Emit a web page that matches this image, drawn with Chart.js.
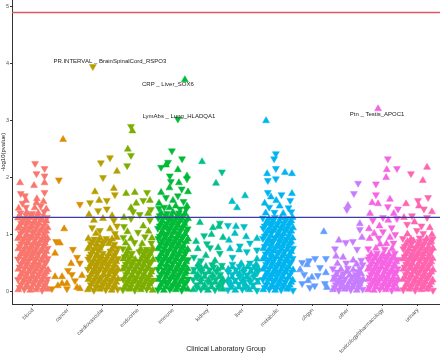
<!DOCTYPE html>
<html>
<head>
<meta charset="utf-8">
<script src="https://cdn.jsdelivr.net/npm/chart.js@4.4.1/dist/chart.umd.min.js"></script>
<style>
  html, body { margin: 0; padding: 0; background: #fff; }
  #wrap { width: 440px; height: 354px; }
</style>
</head>
<body>
<div id="wrap"><canvas id="c" width="440" height="354"></canvas></div>
<script>
const categories = ['blood', 'cancer', 'cardiovascular', 'endocrine', 'immune', 'kidney', 'liver',
  'metabolic', 'obgyn', 'other', 'toxicology/pharmacology', 'urinary'];
const colors = ['#F8766D', '#DE8C00', '#B79F00', '#7CAE00', '#00BA38', '#00C08B', '#00BFC4',
  '#00B4F0', '#619CFF', '#C77CFF', '#F564E3', '#FF64B0'];
const yTicks = [0, 1, 2, 3, 4, 5];
const sigLine = 4.9;
const suggestLine = 1.3;

// points per group: [jitter, -log10(p), 1 = up / 0 = down]
const blood = [
  [-.42,.03,1],[-.25,.04,0],[-.08,.02,1],[.09,.03,1],[.26,.02,0],[.42,.04,1],
  [-.34,.12,0],[-.17,.11,1],[0,.13,0],[.17,.12,1],[.34,.11,0],
  [-.43,.21,0],[-.26,.2,1],[-.09,.22,0],[.08,.21,1],[.25,.2,1],[.41,.22,0],
  [-.35,.3,1],[-.18,.31,0],[-.01,.29,1],[.16,.3,0],[.33,.31,1],
  [-.42,.39,1],[-.25,.4,0],[-.08,.38,0],[.09,.39,1],[.26,.4,0],[.43,.38,1],
  [-.34,.48,0],[-.17,.49,1],[.01,.47,0],[.17,.48,1],[.35,.49,0],
  [-.43,.57,0],[-.26,.56,1],[-.09,.58,1],[.08,.57,0],[.25,.56,1],[.42,.58,0],
  [-.35,.66,1],[-.18,.65,0],[-.01,.67,1],[.16,.66,0],[.33,.65,1],
  [-.42,.75,1],[-.25,.74,0],[-.08,.76,1],[.09,.75,0],[.26,.74,1],[.42,.76,0],
  [-.34,.84,0],[-.17,.85,1],[0,.83,0],[.17,.84,1],[.34,.85,1],
  [-.43,.93,1],[-.26,.92,0],[-.09,.94,1],[.08,.93,0],[.25,.92,0],[.41,.94,1],
  [-.35,1.02,0],[-.18,1.01,1],[-.01,1.03,0],[.16,1.02,1],[.33,1.01,0],
  [-.42,1.11,1],[-.25,1.1,0],[-.08,1.12,1],[.09,1.11,0],[.26,1.1,1],[.42,1.12,1],
  [-.34,1.2,0],[-.17,1.21,1],[0,1.19,0],[.17,1.2,1],[.34,1.21,0],
  [-.43,1.29,1],[-.26,1.28,0],[-.09,1.3,1],[.08,1.29,0],[.25,1.28,1],[.4,1.3,0],
  [-.36,1.38,0],[-.18,1.39,1],[-.02,1.37,0],[.15,1.38,1],[.32,1.4,0],
  [-.38,.07,0],[-.2,.08,1],[-.04,.07,1],[.13,.08,0],[.3,.07,1],
  [-.3,.16,1],[-.13,.17,0],[.04,.16,0],[.21,.17,1],[.38,.16,0],
  [-.38,.25,1],[-.2,.26,0],[-.04,.25,1],[.13,.26,1],[.3,.25,0],
  [-.3,.34,0],[-.13,.35,1],[.04,.34,1],[.21,.35,0],[.38,.34,1],
  [-.38,.43,0],[-.2,.44,1],[-.04,.43,0],[.13,.44,1],[.3,.43,1],
  [-.3,.52,1],[-.13,.53,0],[.04,.52,1],[.21,.53,0],[.38,.52,0],
  [-.38,.61,1],[-.2,.62,0],[-.04,.61,0],[.13,.62,1],[.3,.61,1],
  [-.3,.7,0],[-.13,.71,1],[.04,.7,0],[.21,.71,1],[.38,.7,1],
  [-.38,.79,0],[-.2,.8,1],[-.04,.79,1],[.13,.8,0],[.3,.79,0],
  [-.3,.88,1],[-.13,.89,0],[.04,.88,1],[.21,.89,1],[.38,.88,0],
  [-.38,.97,1],[-.2,.98,1],[-.04,.97,0],[.13,.98,0],[.3,.97,1],
  [-.3,1.06,0],[-.13,1.07,1],[.04,1.06,0],[.21,1.07,1],[.38,1.06,1],
  [-.38,1.15,1],[-.2,1.16,0],[-.04,1.15,1],[.13,1.16,0],[.3,1.15,0],
  [-.3,1.24,0],[-.13,1.25,1],[.04,1.24,1],[.21,1.25,0],[.38,1.24,1],
  [-.38,1.33,1],[-.2,1.34,0],[-.04,1.33,0],[.13,1.34,1],[.3,1.33,1],
  [-.41,1.46,1],[-.2,1.48,0],[.05,1.47,1],[.22,1.5,0],[.38,1.45,1],[-.3,1.55,0],[.1,1.56,1],[.3,1.58,1],
  [-.37,1.91,1],[.06,2.25,0],[.1,2.07,0],[.33,2.16,0],[.33,2.03,0],[.33,1.91,1],[.33,1.74,0],
  [.03,1.86,1],[-.23,1.68,0],[-.2,1.6,1],[.11,1.63,1],[-.35,1.72,0]
];
const cancer = [
  [-.14,2.67,1],[-.26,1.96,0],[.34,1.53,0],[-.11,1.1,1],[-.34,.88,0],[-.23,.85,1],[-.37,.67,1],
  [.14,.74,0],[.09,.49,1],[.26,.6,0],[.34,.5,0],[-.37,.26,1],[-.17,.26,1],[.11,.3,0],[.4,.28,1],
  [-.29,.1,1],[-.03,.05,0],[.26,.07,1],[.2,.19,0],[.34,.05,1],[-.46,.05,0],[-.17,.14,1],[0,.37,0],[-.03,.14,1]
];
const cardiovascular = [
  [-.43,.03,1],[-.26,.02,0],[-.09,.04,1],[.08,.03,0],[.25,.02,1],[.42,.04,0],
  [-.35,.12,0],[-.18,.11,1],[-.01,.13,1],[.16,.12,0],[.33,.11,1],
  [-.42,.21,1],[-.25,.2,0],[-.08,.22,0],[.09,.21,1],[.26,.2,0],[.43,.22,1],
  [-.34,.3,1],[-.17,.31,0],[0,.29,1],[.17,.3,1],[.34,.31,0],
  [-.43,.39,0],[-.26,.38,1],[-.09,.4,0],[.08,.39,1],[.25,.38,0],[.42,.4,1],
  [-.35,.48,1],[-.18,.47,0],[-.01,.49,1],[.16,.48,0],[.33,.47,1],
  [-.42,.57,0],[-.25,.56,1],[-.08,.58,1],[.09,.57,0],[.26,.56,1],[.43,.58,0],
  [-.34,.66,0],[-.17,.65,1],[0,.67,0],[.17,.66,1],[.34,.65,0],
  [-.43,.75,1],[-.26,.74,0],[-.09,.76,1],[.25,.74,1],[.42,.76,0],
  [-.35,.84,0],[-.18,.83,1],[-.01,.85,0],[.16,.84,1],[.33,.83,0],
  [-.42,.93,1],[-.25,.92,0],[-.08,.94,1],[.09,.93,0],[.26,.92,1],[.4,.95,1],
  [-.38,.07,1],[-.2,.08,0],[-.04,.07,0],[.13,.08,1],[.3,.07,0],
  [-.3,.16,0],[-.13,.17,1],[.04,.16,1],[.21,.17,0],[.38,.16,1],
  [-.38,.25,0],[-.2,.26,1],[-.04,.25,0],[.13,.26,0],[.3,.25,1],
  [-.3,.34,1],[-.13,.35,0],[.04,.34,0],[.21,.35,1],[.38,.34,0],
  [-.38,.43,1],[-.2,.44,0],[-.04,.43,1],[.13,.44,0],[.3,.43,0],
  [-.3,.52,0],[-.13,.53,1],[.04,.52,0],[.21,.53,1],[.38,.52,1],
  [-.38,.61,0],[-.2,.62,1],[-.04,.61,1],[.13,.62,0],[.3,.61,0],
  [-.3,.7,1],[-.13,.71,0],[.21,.71,0],[.38,.7,0],
  [-.38,.79,1],[-.2,.8,0],[-.04,.79,0],[.3,.79,1],
  [-.3,.88,0],[-.13,.89,1],[.04,.88,0],[.21,.89,0],
  [-.06,2.26,0],[.2,2.35,0],[.4,2.11,1],[0,2.0,0],[.31,1.81,1],[.34,1.7,0],[-.23,1.75,1],
  [-.37,1.56,0],[-.11,1.6,1],[.11,1.6,0],[-.14,1.42,0],[.11,1.45,0],[.26,1.33,1],[.31,1.25,0],
  [-.26,1.25,1],[-.31,1.12,0],[-.09,1.07,0],[.2,1.1,1],[.4,1.15,0],[-.4,1.35,1],[0,1.28,1],
  [-.2,1.02,1],[.34,1.02,0]
];
const endocrine = [
  [-.43,.03,0],[-.26,.04,1],[-.09,.02,0],[.08,.03,1],[.25,.04,0],[.42,.02,1],
  [-.35,.12,1],[-.18,.13,0],[-.01,.11,1],[.16,.12,0],[.33,.13,1],
  [-.42,.21,0],[-.25,.22,1],[-.08,.2,1],[.09,.21,0],[.26,.22,1],[.43,.2,0],
  [-.34,.3,0],[-.17,.29,1],[0,.31,0],[.17,.3,1],[.34,.29,1],
  [-.43,.39,1],[-.26,.4,0],[-.09,.38,1],[.08,.39,0],[.25,.4,1],[.42,.38,0],
  [-.35,.48,0],[-.18,.49,1],[-.01,.47,0],[.16,.48,1],[.33,.49,0],
  [-.42,.57,1],[-.25,.58,0],[-.08,.56,1],[.09,.57,1],[.26,.58,0],[.43,.56,1],
  [-.34,.66,1],[-.17,.67,0],[.17,.66,0],[.34,.67,1],
  [-.43,.75,0],[-.26,.76,1],[.08,.75,1],[.25,.74,0],[.42,.76,1],
  [-.35,.85,1],[-.1,.86,0],[.12,.84,1],[.38,.85,0],
  [-.42,.95,0],[-.2,.93,1],[.2,.96,0],[.4,.94,1],
  [-.3,1.05,1],[0,1.04,0],[.3,1.06,1],[-.4,1.14,0],[.15,1.15,1],
  [-.38,.07,1],[-.2,.08,0],[-.04,.07,1],[.13,.08,0],[.3,.07,1],
  [-.3,.16,0],[-.13,.17,1],[.04,.16,0],[.21,.17,1],[.38,.16,0],
  [-.38,.25,1],[-.2,.26,1],[-.04,.25,0],[.13,.26,1],[.3,.25,0],
  [-.3,.34,1],[-.13,.35,0],[.04,.34,1],[.21,.35,0],[.38,.34,1],
  [-.38,.43,0],[-.2,.44,1],[-.04,.43,1],[.13,.44,0],[.3,.43,1],
  [-.3,.52,1],[-.13,.53,0],[.04,.52,0],[.21,.53,1],[.38,.52,0],
  [-.38,.61,0],[-.2,.62,1],[.13,.62,1],[.3,.61,0],
  [-.3,.7,1],[.04,.7,0],[.21,.71,1],[.38,.7,0],
  [-.2,2.9,0],[-.16,2.82,1],[-.29,2.5,1],[-.2,2.39,0],[-.31,2.21,0],[-.34,1.72,1],[-.09,1.74,1],
  [.26,1.74,0],[.34,1.6,1],[-.2,1.47,1],[-.14,1.4,0],[.37,1.44,0],[.29,1.37,1],[-.2,1.28,0],
  [.34,1.25,0],[-.4,1.3,1],[.05,1.35,0],[.15,1.6,0],[-.05,1.55,1]
];
const immune = [
  [-.43,.03,0],[-.26,.02,1],[-.09,.04,0],[.08,.03,1],[.25,.02,0],[.42,.04,1],
  [-.35,.12,1],[-.18,.13,0],[-.01,.11,0],[.16,.12,1],[.33,.13,0],
  [-.42,.21,1],[-.25,.2,1],[-.08,.22,0],[.09,.21,0],[.26,.2,1],[.43,.22,0],
  [-.34,.3,0],[-.17,.31,1],[0,.29,1],[.17,.3,0],[.34,.31,1],
  [-.43,.39,0],[-.26,.38,0],[-.09,.4,1],[.08,.39,1],[.25,.38,0],[.42,.4,1],
  [-.35,.48,1],[-.18,.47,1],[-.01,.49,0],[.16,.48,0],[.33,.47,1],
  [-.42,.57,0],[-.25,.58,1],[-.08,.56,0],[.09,.57,1],[.26,.58,1],[.43,.56,0],
  [-.34,.66,1],[-.17,.67,0],[0,.65,1],[.17,.66,0],[.34,.67,0],
  [-.43,.75,1],[-.26,.76,0],[-.09,.74,1],[.08,.75,0],[.25,.76,1],[.42,.74,1],
  [-.35,.84,0],[-.18,.85,1],[-.01,.83,0],[.16,.84,1],[.33,.85,0],
  [-.42,.93,0],[-.25,.94,1],[-.08,.92,1],[.09,.93,0],[.26,.94,0],[.43,.92,1],
  [-.34,1.02,1],[-.17,1.01,0],[0,1.03,1],[.17,1.02,0],[.34,1.01,1],
  [-.43,1.11,0],[-.26,1.12,1],[-.09,1.1,0],[.08,1.11,1],[.25,1.12,0],[.42,1.1,0],
  [-.35,1.2,1],[-.18,1.19,0],[-.01,1.21,1],[.16,1.2,0],[.33,1.19,1],
  [-.42,1.29,0],[-.25,1.3,1],[-.08,1.28,0],[.09,1.29,1],[.26,1.3,0],[.43,1.28,1],
  [-.34,1.38,1],[-.17,1.37,0],[0,1.39,1],[.17,1.38,0],[.34,1.37,1],
  [-.38,.07,1],[-.2,.08,1],[-.04,.07,0],[.13,.08,0],[.3,.07,1],
  [-.3,.16,0],[-.13,.17,0],[.04,.16,1],[.21,.17,1],[.38,.16,0],
  [-.38,.25,0],[-.2,.26,1],[-.04,.25,1],[.13,.26,0],[.3,.25,1],
  [-.3,.34,1],[-.13,.35,1],[.04,.34,0],[.21,.35,0],[.38,.34,1],
  [-.38,.43,1],[-.2,.44,0],[-.04,.43,0],[.13,.44,1],[.3,.43,0],
  [-.3,.52,0],[-.13,.53,1],[.04,.52,1],[.21,.53,0],[.38,.52,1],
  [-.38,.61,1],[-.2,.62,0],[-.04,.61,1],[.13,.62,0],[.3,.61,0],
  [-.3,.7,0],[-.13,.71,0],[.04,.7,1],[.21,.71,1],[.38,.7,0],
  [-.38,.79,1],[-.2,.8,0],[-.04,.79,0],[.13,.8,1],[.3,.79,1],
  [-.3,.88,0],[-.13,.89,1],[.04,.88,1],[.21,.89,0],[.38,.88,1],
  [-.38,.97,0],[-.2,.98,0],[-.04,.97,1],[.13,.98,1],[.3,.97,0],
  [-.3,1.06,1],[-.13,1.07,0],[.04,1.06,1],[.21,1.07,0],[.38,1.06,0],
  [-.38,1.15,0],[-.2,1.16,1],[-.04,1.15,0],[.13,1.16,1],[.3,1.15,1],
  [-.3,1.24,1],[-.13,1.25,0],[.04,1.24,0],[.21,1.25,1],[.38,1.24,0],
  [-.38,1.33,0],[-.2,1.34,1],[-.04,1.33,1],[.13,1.34,0],[.3,1.33,0],
  [-.4,1.46,0],[-.1,1.47,1],[.2,1.45,0],[.4,1.5,1],
  [-.03,2.47,0],[.26,2.33,0],[.14,2.14,1],[-.34,2.18,0],[-.14,2.27,0],[-.2,2.22,1],[.4,2.03,1],
  [.4,1.98,0],[-.09,2.03,0],[-.06,1.93,0],[.17,1.91,1],[-.34,1.74,1],[.43,1.75,1],[-.2,1.65,0],
  [.14,1.68,0],[-.4,1.55,1],[0,1.6,1],[.3,1.58,0],[-.25,1.48,0],[.08,1.5,1],[.38,1.45,0],
  [-.1,1.82,1],[.25,1.8,0]
];
const kidney = [
  [-.42,.03,1],[-.2,.04,0],[0,.02,1],[.2,.03,0],[.42,.04,1],
  [-.32,.12,0],[-.1,.11,1],[.1,.13,0],[.32,.12,1],
  [-.42,.21,0],[-.2,.22,1],[.02,.2,1],[.22,.21,0],[.42,.22,1],
  [-.3,.3,1],[-.08,.31,0],[.14,.29,1],[.35,.3,0],
  [-.4,.39,0],[-.18,.4,1],[.05,.38,0],[.28,.39,1],
  [-.28,.48,1],[.12,.47,0],[.4,.46,0],
  [-.31,.07,0],[-.1,.06,1],[.1,.08,1],[.31,.07,0],
  [-.21,.16,1],[0,.17,0],[.21,.16,1],[.42,.15,0],
  [-.31,.25,0],[-.1,.26,1],[.12,.25,0],[.32,.26,1],
  [-.41,.34,1],[-.19,.35,0],[.03,.34,1],[.24,.35,0],
  [-.27,.43,0],[-.06,.44,1],[.16,.43,0],[.4,.42,1],
  [-.17,2.28,1],[.4,2.1,0],[.23,1.9,1],[-.23,1.21,1],[.14,1.12,1],[.31,1.14,1],[-.11,.98,0],
  [-.03,.84,0],[-.29,.75,1],[.06,.77,0],[.29,.77,1],[.34,.67,0],[-.06,.63,1],[-.2,.54,0],
  [.2,.54,1],[-.34,.88,1],[.43,.95,1],[-.4,.6,0],[.1,1.0,1],[.34,1.2,0]
];
const liver = [
  [-.43,.03,0],[-.22,.02,1],[-.02,.04,0],[.18,.03,1],[.4,.02,0],
  [-.33,.12,1],[-.12,.13,0],[.08,.11,1],[.29,.12,0],
  [-.42,.21,1],[-.22,.2,0],[0,.22,1],[.2,.21,1],[.42,.2,0],
  [-.3,.3,0],[-.1,.31,1],[.12,.29,0],[.33,.3,1],
  [-.42,.39,1],[-.2,.38,0],[.02,.4,1],[.24,.39,0],[.43,.41,1],
  [-.3,.48,0],[-.05,.49,1],[.2,.5,0],[.38,.48,1],
  [-.33,.07,1],[-.12,.08,1],[.08,.07,0],[.29,.08,1],
  [-.42,.16,0],[-.22,.17,1],[0,.16,0],[.2,.17,0],[.42,.16,1],
  [-.31,.25,1],[-.1,.26,0],[.1,.25,1],[.31,.26,0],
  [-.42,.34,0],[-.2,.35,1],[.02,.34,0],[.22,.35,1],[.42,.34,0],
  [-.3,.43,1],[-.1,.44,0],[.13,.43,1],[.33,.44,0],
  [.06,1.68,1],[-.31,1.58,1],[-.17,1.47,1],[-.43,1.16,0],[-.2,1.14,1],[.03,1.14,0],[-.23,1.02,1],
  [.09,.96,1],[.4,.93,1],[-.37,.75,1],[-.09,.8,0],[-.11,.73,1],[.11,.7,0],[.4,.73,0],[.4,.57,1],
  [-.3,.6,0],[.2,.85,0],[-.4,.9,1]
];
const metabolic = [
  [-.42,.03,1],[-.25,.04,0],[-.08,.02,1],[.09,.03,0],[.26,.04,1],[.43,.02,0],
  [-.34,.12,0],[-.17,.11,1],[0,.13,1],[.17,.12,0],[.34,.11,1],
  [-.43,.21,0],[-.26,.22,1],[-.09,.2,0],[.08,.21,1],[.25,.22,0],[.42,.2,1],
  [-.35,.3,1],[-.18,.29,0],[-.01,.31,1],[.16,.3,0],[.33,.29,0],
  [-.42,.39,1],[-.25,.4,0],[-.08,.38,1],[.09,.39,1],[.26,.4,0],[.43,.38,1],
  [-.34,.48,0],[-.17,.49,1],[0,.47,0],[.17,.48,1],[.34,.49,0],
  [-.43,.57,1],[-.26,.56,0],[-.09,.58,0],[.08,.57,1],[.25,.56,1],[.42,.58,0],
  [-.35,.66,0],[-.18,.65,1],[-.01,.67,0],[.16,.66,1],[.33,.65,1],
  [-.42,.75,1],[-.25,.74,1],[-.08,.76,0],[.09,.75,0],[.26,.74,1],[.43,.76,0],
  [-.34,.84,1],[-.17,.85,0],[0,.83,1],[.17,.84,0],[.34,.85,1],
  [-.43,.93,0],[-.26,.92,1],[-.09,.94,0],[.08,.93,1],[.25,.92,0],[.42,.94,1],
  [-.35,1.02,1],[-.18,1.03,0],[-.01,1.01,1],[.16,1.02,1],[.33,1.03,0],
  [-.42,1.11,0],[-.25,1.1,1],[-.08,1.12,0],[.09,1.11,1],[.26,1.1,0],[.43,1.12,1],
  [-.34,1.2,1],[-.17,1.21,1],[0,1.19,0],[.17,1.2,0],[.34,1.21,1],
  [-.43,1.29,0],[-.26,1.28,1],[-.09,1.3,0],[.08,1.29,1],[.25,1.28,0],[.42,1.3,1],
  [-.38,.07,0],[-.2,.08,1],[-.04,.07,0],[.13,.08,1],[.3,.07,0],
  [-.3,.16,1],[-.13,.17,0],[.04,.16,1],[.21,.17,0],[.38,.16,1],
  [-.38,.25,1],[-.2,.26,0],[-.04,.25,0],[.13,.26,1],[.3,.25,1],
  [-.3,.34,0],[-.13,.35,1],[.04,.34,0],[.21,.35,1],[.38,.34,0],
  [-.38,.43,1],[-.2,.44,1],[-.04,.43,0],[.13,.44,0],[.3,.43,1],
  [-.3,.52,0],[-.13,.53,0],[.04,.52,1],[.21,.53,1],[.38,.52,0],
  [-.38,.61,1],[-.2,.62,0],[-.04,.61,1],[.13,.62,1],[.3,.61,0],
  [-.3,.7,1],[-.13,.71,1],[.04,.7,0],[.21,.71,0],[.38,.7,1],
  [-.38,.79,0],[-.2,.8,0],[-.04,.79,1],[.13,.8,1],[.3,.79,0],
  [-.3,.88,1],[-.13,.89,0],[.04,.88,0],[.21,.89,1],[.38,.88,1],
  [-.38,.97,0],[-.2,.98,1],[-.04,.97,1],[.13,.98,0],[.3,.97,0],
  [-.3,1.06,1],[-.13,1.07,1],[.04,1.06,0],[.21,1.07,0],[.38,1.06,1],
  [-.38,1.15,0],[-.2,1.16,0],[-.04,1.15,1],[.13,1.16,1],[.3,1.15,0],
  [-.3,1.24,1],[-.13,1.25,0],[.04,1.24,1],[.21,1.25,0],[.38,1.24,1],
  [-.35,1.38,1],[-.1,1.39,0],[.15,1.37,1],[.38,1.4,0],[-.25,1.48,0],[.05,1.5,1],[.3,1.47,0],
  [-.34,3.0,1],[-.06,2.42,0],[-.11,2.33,0],[-.31,2.07,1],[-.06,2.16,0],[.2,2.09,1],[.4,2.07,1],
  [-.29,1.95,0],[-.06,1.98,0],[.4,1.72,1],[-.29,1.74,0],[-.2,1.66,1],[.1,1.7,0],[.35,1.6,0],
  [-.05,1.6,1],[-.38,1.55,1]
];
const obgyn = [
  [.31,1.05,1],[-.31,.51,0],[-.11,.54,0],[.06,.58,0],[-.17,.47,1],[.37,.58,0],[.37,.33,1],
  [.14,.28,0],[-.31,.14,0],[-.03,.25,1],[-.09,.07,0],[-.14,.19,1],[.34,.14,0],[.4,.07,1],
  [-.37,.38,1],[.2,.42,0],[.05,.1,0],[-.25,.3,0]
];
const other = [
  [-.43,.03,1],[-.26,.02,0],[-.09,.04,1],[.08,.03,0],[.25,.02,1],[.42,.04,0],
  [-.35,.12,0],[-.18,.13,1],[-.01,.11,1],[.16,.12,0],[.33,.13,1],
  [-.42,.21,1],[-.25,.2,0],[-.08,.22,0],[.09,.21,1],[.26,.2,0],[.43,.22,1],
  [-.34,.3,1],[-.12,.31,0],[.05,.29,1],[.22,.3,0],[.38,.31,1],
  [-.43,.4,0],[-.2,.39,1],[0,.41,0],[.15,.38,1],[.35,.4,0],
  [-.3,.49,1],[-.05,.5,0],[.25,.48,1],[.42,.47,0],
  [-.38,.07,0],[-.2,.08,1],[-.04,.07,0],[.13,.08,1],[.3,.07,0],
  [-.3,.16,1],[-.13,.17,0],[.04,.16,1],[.21,.17,1],[.38,.16,0],
  [-.38,.25,0],[-.2,.26,1],[.13,.26,0],[.3,.25,1],
  [-.3,.34,0],[-.04,.35,1],[.3,.35,0],
  [.29,1.9,0],[.17,1.72,0],[0,1.51,1],[-.03,1.44,0],[.34,1.19,1],[.34,1.09,0],[.14,.88,0],
  [-.06,.86,0],[-.26,.9,1],[-.37,.75,0],[.26,.74,0],[-.14,.6,1],[-.34,.62,1],[.4,.95,1],
  [.38,.55,0],[.15,.55,1]
];
const toxicology = [
  [-.43,.03,1],[-.26,.02,1],[-.09,.04,0],[.08,.03,1],[.25,.02,0],[.42,.04,1],
  [-.35,.12,0],[-.18,.13,1],[-.01,.11,0],[.16,.12,1],[.33,.13,1],
  [-.42,.21,1],[-.25,.2,0],[-.08,.22,1],[.09,.21,0],[.26,.2,0],[.43,.22,1],
  [-.34,.3,0],[-.17,.31,1],[0,.29,1],[.17,.3,0],[.34,.31,1],
  [-.43,.39,1],[-.26,.38,0],[-.09,.4,0],[.08,.39,1],[.25,.38,1],[.42,.4,0],
  [-.35,.48,1],[-.18,.47,0],[-.01,.49,1],[.16,.48,0],[.33,.47,1],
  [-.42,.57,0],[-.25,.58,1],[-.08,.56,1],[.09,.57,0],[.26,.58,1],[.43,.56,0],
  [-.34,.66,1],[-.17,.67,0],[0,.65,1],[.17,.66,1],[.34,.67,0],
  [-.38,.07,0],[-.2,.08,1],[-.04,.07,1],[.13,.08,0],[.3,.07,1],
  [-.3,.16,1],[-.13,.17,0],[.04,.16,1],[.21,.17,0],[.38,.16,0],
  [-.38,.25,0],[-.2,.26,1],[-.04,.25,0],[.13,.26,1],[.3,.25,1],
  [-.3,.34,1],[-.13,.35,0],[.04,.34,1],[.21,.35,1],[.38,.34,0],
  [-.38,.43,0],[-.2,.44,1],[-.04,.43,1],[.13,.44,0],[.3,.43,0],
  [-.3,.52,1],[-.13,.53,1],[.04,.52,0],[.21,.53,1],[.38,.52,1],
  [-.38,.61,0],[-.2,.62,0],[-.04,.61,1],[.13,.62,0],[.3,.61,1],
  [-.42,.75,0],[-.2,.76,1],[.05,.74,0],[.26,.75,1],[.1,.84,1],[.3,.85,0],[-.08,.83,1],
  [-.38,.93,1],[-.12,.94,0],[.2,.95,1],[.35,1.0,0],[-.25,1.02,1],[0,1.05,0],
  [.14,2.33,0],[.11,2.14,1],[.4,2.16,0],[.09,2.0,1],[-.2,1.89,0],[-.31,1.56,1],[-.14,1.54,1],
  [.14,1.49,0],[.31,1.37,1],[-.37,1.37,1],[0,1.3,0],[.15,1.25,1],[-.29,1.25,0],[.4,1.28,0],
  [-.4,1.1,1],[.25,1.12,0],[-.1,1.15,1],[.43,1.45,0],[-.2,1.7,0],[.2,1.62,1]
];
const urinary = [
  [-.42,.03,0],[-.25,.04,1],[-.08,.02,0],[.09,.03,1],[.26,.04,1],[.43,.02,0],
  [-.34,.12,1],[-.17,.11,0],[0,.13,1],[.17,.12,0],[.34,.11,1],
  [-.43,.21,1],[-.26,.22,0],[-.09,.2,1],[.08,.21,1],[.25,.22,0],[.42,.2,1],
  [-.35,.3,0],[-.18,.29,1],[-.01,.31,0],[.16,.3,1],[.33,.29,0],
  [-.42,.39,1],[-.25,.4,1],[-.08,.38,0],[.09,.39,0],[.26,.4,1],[.43,.38,1],
  [-.34,.48,0],[-.17,.49,1],[0,.47,1],[.17,.48,0],[.34,.49,1],
  [-.43,.57,1],[-.26,.56,0],[-.09,.58,1],[.08,.57,0],[.25,.56,0],[.42,.58,1],
  [-.35,.66,1],[-.18,.65,0],[-.01,.67,1],[.16,.66,1],[.33,.65,0],
  [-.42,.75,0],[-.25,.74,1],[-.08,.76,0],[.09,.75,1],[.26,.74,0],[.43,.76,1],
  [-.34,.84,1],[-.17,.85,0],[0,.83,1],[.17,.84,0],[.34,.85,1],
  [-.43,.93,0],[-.2,.92,1],[.05,.94,0],[.25,.93,1],[.42,.92,0],
  [-.38,.07,1],[-.2,.08,0],[-.04,.07,1],[.13,.08,1],[.3,.07,0],
  [-.3,.16,0],[-.13,.17,1],[.04,.16,0],[.21,.17,1],[.38,.16,1],
  [-.38,.25,1],[-.2,.26,0],[-.04,.25,1],[.13,.26,0],[.3,.25,0],
  [-.3,.34,1],[-.13,.35,1],[.04,.34,0],[.21,.35,0],[.38,.34,1],
  [-.38,.43,0],[-.2,.44,0],[-.04,.43,1],[.13,.44,1],[.3,.43,0],
  [-.3,.52,1],[-.13,.53,0],[.04,.52,1],[.21,.53,0],[.38,.52,1],
  [-.38,.61,0],[-.2,.62,1],[-.04,.61,0],[.13,.62,1],[.3,.61,1],
  [-.3,.7,1],[-.13,.71,0],[.04,.7,1],[.21,.71,1],[.38,.7,0],
  [-.38,.79,0],[-.2,.8,1],[-.04,.79,1],[.13,.8,0],[.3,.79,1],
  [-.3,.88,1],[-.13,.89,1],[.04,.88,0],[.21,.89,0],[.38,.88,1],
  [-.3,1.01,1],[.15,1.02,0],[.4,1.0,1],
  [-.2,2.07,0],[.26,2.18,1],[.14,1.95,1],[.29,1.65,0],[-.34,1.54,1],[0,1.6,0],[.03,1.5,1],
  [.17,1.45,0],[-.17,1.33,0],[.26,1.3,0],[.34,1.12,1],[-.31,1.18,0],[-.03,1.07,0],[-.4,1.3,1],
  [.4,1.4,1],[-.1,1.22,1],[.1,1.15,0]
];

// labelled hits
const hitGroup = [2, 4, 4, 10];
const hitPoints = [[-.29,3.95,0], [.34,3.72,1], [.14,3.03,0], [-.14,3.21,1]];
const hitText = ['PR.INTERVAL _ BrainSpinalCord_RSPO3', 'CRP _ Liver_SOX6', 'LymAbs _ Lung_HLADQA1', 'Ptn _ Testis_APOC1'];

const FONT = '"Liberation Sans", Arial, Helvetica, sans-serif';
const groups = [blood, cancer, cardiovascular, endocrine, immune, kidney, liver, metabolic, obgyn, other, toxicology, urinary];
hitPoints.forEach((p, i) => groups[hitGroup[i]].push(p));

const datasets = groups.map((pts, i) => ({
  data: pts.map((p) => ({ x: i + 1 + p[0], y: p[1], up: p[2] })),
  backgroundColor: colors[i],
  borderColor: colors[i],
  pointStyle: 'triangle',
  pointRadius: 4,
  pointBorderWidth: 0.5,
  pointRotation: (ctx) => (ctx.raw && ctx.raw.up ? 0 : 180),
}));

// text nudges for the labels, in pixels
const labelShift = [[17, -5], [-17, 5], [1, -3], [-1, 6]];

const overlay = {
  id: 'overlay',
  afterDatasetsDraw(chart) {
    const { ctx, chartArea: a, scales: { x, y } } = chart;
    ctx.save();
    [[sigLine, '#e0575f'], [suggestLine, '#3a3aa8']].forEach(([v, c]) => {
      const py = y.getPixelForValue(v);
      ctx.strokeStyle = c;
      ctx.lineWidth = 1.3;
      ctx.beginPath();
      ctx.moveTo(a.left, py);
      ctx.lineTo(a.right, py);
      ctx.stroke();
    });
    ctx.font = '6px ' + FONT;
    ctx.fillStyle = '#1a1a1a';
    ctx.textAlign = 'center';
    ctx.textBaseline = 'middle';
    hitText.forEach((t, i) => {
      const p = hitPoints[i];
      const px = x.getPixelForValue(hitGroup[i] + 1 + p[0]);
      const py = y.getPixelForValue(p[1]);
      ctx.fillText(t, px + labelShift[i][0], py + labelShift[i][1]);
    });
    ctx.restore();
  },
};

const axisGrid = { display: true, drawOnChartArea: false, drawTicks: true, tickLength: 2, color: '#333' };
const axisBorder = { display: true, color: '#333', width: 1 };

new Chart(document.getElementById('c'), {
  type: 'scatter',
  data: { datasets },
  options: {
    responsive: false,
    animation: false,
    events: [],
    layout: { padding: 0, autoPadding: false },
    plugins: { legend: { display: false }, tooltip: { enabled: false } },
    scales: {
      x: {
        type: 'linear', min: 0.4, max: 12.63,
        afterBuildTicks: (s) => { s.ticks = categories.map((c, i) => ({ value: i + 1 })); },
        afterFit: (s) => { s.height = 50; s.paddingLeft = 0; s.paddingRight = 0; },
        ticks: {
          callback: (v) => categories[v - 1], autoSkip: false, minRotation: 45, maxRotation: 45,
          font: { size: 5.5, family: FONT }, color: '#555', padding: 1,
        },
        grid: axisGrid, border: axisBorder,
        title: { display: true, text: 'Clinical Laboratory Group', font: { size: 7, family: FONT }, color: '#1a1a1a', padding: { top: 0, bottom: 1 } },
      },
      y: {
        min: -0.22, max: 5.12,
        afterBuildTicks: (s) => { s.ticks = yTicks.map((v) => ({ value: v })); },
        afterFit: (s) => { s.width = 12; s.paddingTop = 0; s.paddingBottom = 0; },
        ticks: { font: { size: 5.5, family: FONT }, color: '#555', padding: 1 },
        grid: axisGrid, border: axisBorder,
        title: { display: true, text: '-log10(pvalue)', font: { size: 6, family: FONT }, color: '#1a1a1a', padding: 0 },
      },
    },
  },
  plugins: [overlay],
});
</script>
</body>
</html>
